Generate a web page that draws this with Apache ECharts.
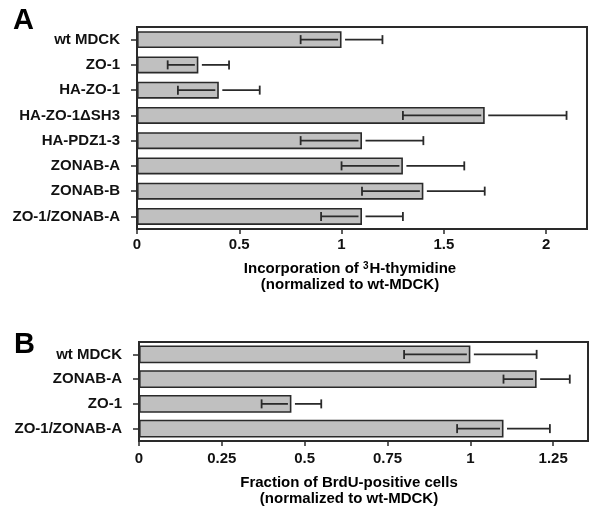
<!DOCTYPE html>
<html>
<head>
<meta charset="utf-8">
<script src="https://cdn.jsdelivr.net/npm/echarts@6/dist/echarts.min.js"></script>
<style>html,body{margin:0;padding:0;background:#fff}#c{width:590px;height:506px}</style>
</head>
<body>
<div id="c"></div>
<script>
// Panel A data
const catsA = ['wt MDCK','ZO-1','HA-ZO-1','HA-ZO-1\u0394SH3','HA-PDZ1-3','ZONAB-A','ZONAB-B','ZO-1/ZONAB-A'];
const valsA = [1.0, 0.3, 0.4, 1.7, 1.1, 1.3, 1.4, 1.1];
const lowA  = [0.8, 0.15, 0.2, 1.3, 0.8, 1.0, 1.1, 0.9];
const highA = [1.2, 0.45, 0.6, 2.1, 1.4, 1.6, 1.7, 1.3];
const xMaxA = 2.2, xStepA = 0.5;

// Panel B data
const catsB = ['wt MDCK','ZONAB-A','ZO-1','ZO-1/ZONAB-A'];
const valsB = [1.0, 1.2, 0.46, 1.1];
const lowB  = [0.8, 1.1, 0.37, 0.96];
const highB = [1.2, 1.3, 0.55, 1.24];
const xMaxB = 1.355, xStepB = 0.25;

const FONT = 'Liberation Sans';
const TXT = '#111';
const LINE = '#2a2a2a';

function errData(lo, hi, v) { return v.map((x, i) => [lo[i], hi[i], x, i]); }

function renderErr(params, api) {
  const ci = api.value(3);
  const pl = api.coord([api.value(0), ci]);
  const ph = api.coord([api.value(1), ci]);
  const pv = api.coord([api.value(2), ci]);
  const y = pv[1], gap = 3.5, cap = 4.5;
  const st = { stroke: LINE, lineWidth: 1.8 };
  return { type: 'group', children: [
    { type: 'line', shape: { x1: pl[0], y1: y, x2: pv[0] - gap, y2: y }, style: st },
    { type: 'line', shape: { x1: pv[0] + gap, y1: y, x2: ph[0], y2: y }, style: st },
    { type: 'line', shape: { x1: pl[0], y1: y - cap, x2: pl[0], y2: y + cap }, style: st },
    { type: 'line', shape: { x1: ph[0], y1: y - cap, x2: ph[0], y2: y + cap }, style: st }
  ]};
}

const labelStyle = { fontFamily: FONT, fontWeight: 'bold', fontSize: 15, color: TXT };

function xAxisCfg(gi, max, step, margin) {
  return {
    type: 'value', gridIndex: gi, min: 0, max: max, interval: step,
    axisLine: { show: true, lineStyle: { color: LINE, width: 2 } },
    axisTick: { show: true, length: 5, lineStyle: { color: LINE, width: 1.5 } },
    splitLine: { show: false },
    axisLabel: Object.assign({ margin: margin, showMaxLabel: false }, labelStyle)
  };
}
function yAxisCfg(gi, cats) {
  return {
    type: 'category', gridIndex: gi, data: cats, inverse: true,
    axisLine: { show: false },
    axisTick: { show: true, alignWithLabel: true, length: 6, lineStyle: { color: LINE, width: 1.5 } },
    axisLabel: Object.assign({ margin: 17 }, labelStyle)
  };
}

const barStyle = { color: '#c0c0c0', borderColor: LINE, borderWidth: 1.6 };

const titleRich = {
  n: { fontFamily: FONT, fontWeight: 'bold', fontSize: 15, color: TXT, lineHeight: 16 },
  s: { fontFamily: FONT, fontWeight: 'bold', fontSize: 10, color: TXT, lineHeight: 16, verticalAlign: 'top', padding: [0, 1, 4, 0] }
};

const chart = echarts.init(document.getElementById('c'), null, { renderer: 'canvas' });
chart.setOption({
  backgroundColor: '#fff',
  animation: false,
  grid: [
    { left: 137, top: 27, width: 450, height: 202, show: true, borderColor: LINE, borderWidth: 2, backgroundColor: 'transparent' },
    { left: 139, top: 342, width: 449, height: 99, show: true, borderColor: LINE, borderWidth: 2, backgroundColor: 'transparent' }
  ],
  xAxis: [ xAxisCfg(0, xMaxA, xStepA, 8), xAxisCfg(1, xMaxB, xStepB, 10) ],
  yAxis: [ yAxisCfg(0, catsA), yAxisCfg(1, catsB) ],
  series: [
    { type: 'bar', xAxisIndex: 0, yAxisIndex: 0, data: valsA, barWidth: 17, itemStyle: barStyle, z: 2 },
    { type: 'custom', xAxisIndex: 0, yAxisIndex: 0, data: errData(lowA, highA, valsA), renderItem: renderErr, encode: { x: [0, 1, 2], y: 3 }, z: 5 },
    { type: 'bar', xAxisIndex: 1, yAxisIndex: 1, data: valsB, barWidth: 18, itemStyle: barStyle, z: 2 },
    { type: 'custom', xAxisIndex: 1, yAxisIndex: 1, data: errData(lowB, highB, valsB), renderItem: renderErr, encode: { x: [0, 1, 2], y: 3 }, z: 5 }
  ],
  graphic: [
    { type: 'text', left: 13, top: 6, style: { text: 'A', fontFamily: FONT, fontWeight: 'bold', fontSize: 29, fill: '#000' } },
    { type: 'text', left: 14, top: 330, style: { text: 'B', fontFamily: FONT, fontWeight: 'bold', fontSize: 29, fill: '#000' } },
    { type: 'text', x: 350, y: 261, style: {
        text: '{n|Incorporation of }{s|3}{n|H-thymidine}\n{n|(normalized to wt-MDCK)}',
        rich: titleRich, align: 'center', verticalAlign: 'top' } },
    { type: 'text', x: 349, y: 475, style: {
        text: '{n|Fraction of BrdU-positive cells}\n{n|(normalized to wt-MDCK)}',
        rich: titleRich, align: 'center', verticalAlign: 'top' } }
  ]
});
</script>
</body>
</html>
